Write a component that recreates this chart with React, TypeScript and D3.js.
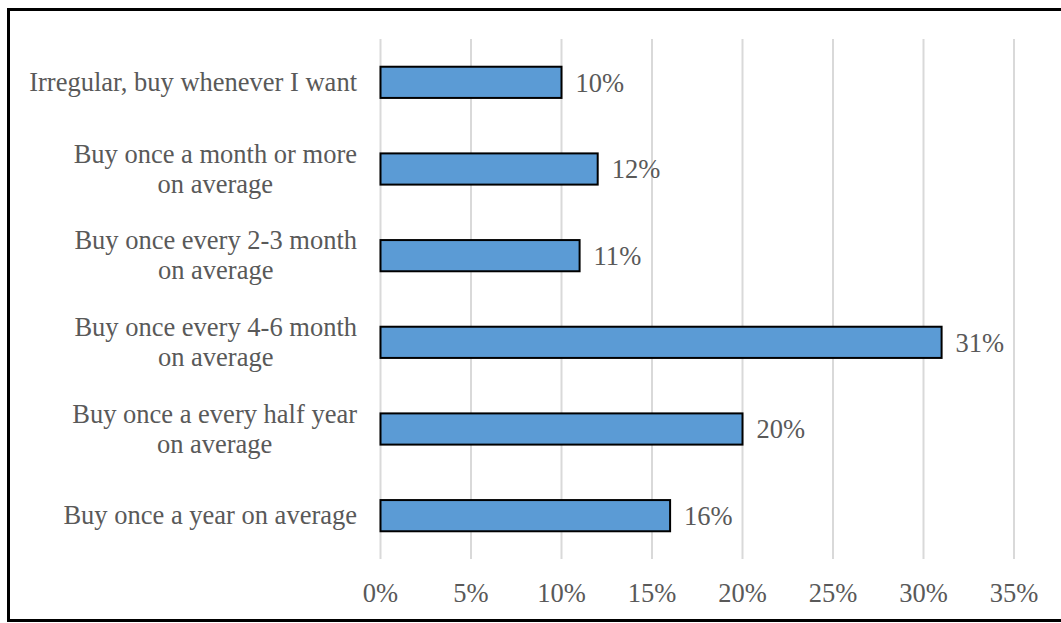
import React from "react";
import { scaleBand, scaleLinear } from "d3";

const categories = [
  ["Irregular, buy whenever I want"],
  ["Buy once a month or more", "on average"],
  ["Buy once every 2-3 month", "on average"],
  ["Buy once every 4-6 month", "on average"],
  ["Buy once a every half year", "on average"],
  ["Buy once a year on average"],
];
const values = [10, 12, 11, 31, 20, 16];
const xTicks = [0, 5, 10, 15, 20, 25, 30, 35];

const WIDTH = 1061;
const HEIGHT = 623;
const FONT = "'Liberation Serif', 'Times New Roman', serif";
const FONT_SIZE = 26.5;
const TEXT_COLOR = "#595959";

let ctx: CanvasRenderingContext2D | null = null;
function measure(s: string) {
  if (!ctx) ctx = document.createElement("canvas").getContext("2d");
  if (!ctx) return s.length * FONT_SIZE * 0.45;
  ctx.font = `${FONT_SIZE}px ${FONT}`;
  return ctx.measureText(s).width;
}

export default function App() {
  const plotLeft = 380.5;
  const plotRight = 1014;
  const plotTop = 39;
  const plotBottom = 559;
  const labelRight = 357;

  const xScale = scaleLinear().domain([0, 35]).range([plotLeft, plotRight]);
  const yScale = scaleBand<number>()
    .domain(values.map((_, i) => i))
    .range([plotTop, plotBottom])
    .paddingInner(0.64)
    .paddingOuter(0.32);

  const bw = yScale.bandwidth();

  return (
    <svg
      width={WIDTH}
      height={HEIGHT}
      style={{ position: "absolute", left: 0, top: 0, background: "#fff" }}
      fontFamily={FONT}
    >
      <rect x={0} y={0} width={WIDTH} height={HEIGHT} fill="#fff" />
      {/* frame */}
      <rect
        x={8.5}
        y={9.5}
        width={WIDTH + 20}
        height={611}
        fill="none"
        stroke="#000"
        strokeWidth={3}
      />

      {/* gridlines */}
      {xTicks.map(t => (
        <line
          key={t}
          x1={xScale(t)}
          x2={xScale(t)}
          y1={plotTop}
          y2={plotBottom}
          stroke="#D9D9D9"
          strokeWidth={2}
        />
      ))}

      {/* bars */}
      {values.map((v, i) => (
        <g key={i}>
          <rect
            x={xScale(0)}
            y={yScale(i)!}
            width={xScale(v) - xScale(0)}
            height={bw}
            fill="#5B9BD5"
            stroke="#000"
            strokeWidth={2}
          />
          <text
            x={xScale(v) + 14}
            y={yScale(i)! + bw / 2}
            dy="0.35em"
            fontSize={FONT_SIZE}
            fill={TEXT_COLOR}
          >
            {v}%
          </text>
        </g>
      ))}

      {/* category labels */}
      {categories.map((lines, i) => {
        const w = Math.max(...lines.map(measure));
        const cx = labelRight - w / 2;
        const cy = yScale(i)! + bw / 2;
        const lh = 30;
        return (
          <text
            key={i}
            fontSize={FONT_SIZE}
            fill={TEXT_COLOR}
            textAnchor="middle"
          >
            {lines.map((l, j) => (
              <tspan
                key={j}
                x={cx}
                y={cy + (j - (lines.length - 1) / 2) * lh}
                dy="0.33em"
              >
                {l}
              </tspan>
            ))}
          </text>
        );
      })}

      {/* x axis labels */}
      {xTicks.map(t => (
        <text
          key={t}
          x={xScale(t)}
          y={601.5}
          textAnchor="middle"
          fontSize={FONT_SIZE}
          fill={TEXT_COLOR}
        >
          {t}%
        </text>
      ))}
    </svg>
  );
}
